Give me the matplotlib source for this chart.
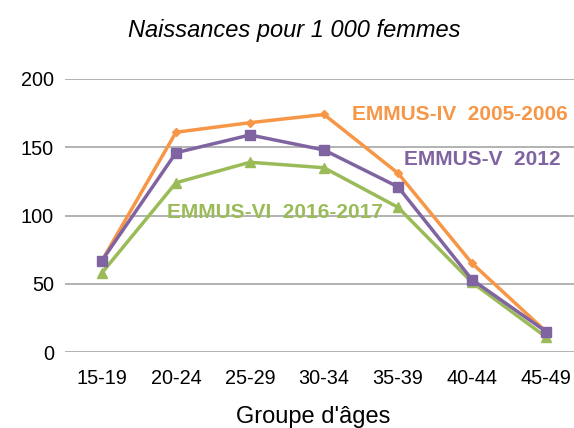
import matplotlib
matplotlib.use("Agg")
import matplotlib.pyplot as plt

plt.rcParams['font.family'] = ['Liberation Sans', 'DejaVu Sans']

ages = ["15-19", "20-24", "25-29", "30-34", "35-39", "40-44", "45-49"]
emmus_iv = [67, 161, 168, 174, 131, 65, 15]
emmus_v = [67, 146, 159, 148, 121, 53, 15]
emmus_vi = [58, 124, 139, 135, 106, 51, 11]

orange = "#F79646"
purple = "#8064A2"
green = "#9BBB59"

fig = plt.figure(figsize=(5.74, 4.28), dpi=100)
ax = fig.add_axes([65/574, 1-352/428, (583-65)/574, (352-79)/428])

ax.plot(range(7), emmus_iv, color=orange, lw=2.5, marker="D", ms=4.5, zorder=3)
ax.plot(range(7), emmus_v, color=purple, lw=2.5, marker="s", ms=7, zorder=4)
ax.plot(range(7), emmus_vi, color=green, lw=2.5, marker="^", ms=7, zorder=3)

ax.set_xlim(-0.5, 6.5)
ax.set_ylim(0, 200)
ax.set_yticks([0, 50, 100, 150, 200])
ax.set_xticks(range(7))
ax.set_xticklabels(ages)
ax.grid(axis="y", color="#A6A6A6", lw=1.2)
ax.set_axisbelow(True)
for s in ax.spines.values():
    s.set_visible(False)
ax.tick_params(length=0, labelsize=14.3, colors="black")
ax.tick_params(axis="y", pad=8)
ax.tick_params(axis="x", pad=12)

ax.text(3.38, 174, "EMMUS-IV  2005-2006", color=orange, fontsize=15, fontweight="bold", va="center", ha="left")
ax.text(4.08, 141, "EMMUS-V  2012", color=purple, fontsize=15, fontweight="bold", va="center", ha="left")
ax.text(0.88, 102, "EMMUS-VI  2016-2017", color=green, fontsize=15, fontweight="bold", va="center", ha="left")

fig.text(294/574, 1-30/428, "Naissances pour 1 000 femmes", ha="center", va="center", fontsize=17, style="italic")
fig.text(313/574, 1-423/428, "Groupe d'âges", ha="center", va="baseline", fontsize=17)

fig.savefig("out.png", dpi=100)
